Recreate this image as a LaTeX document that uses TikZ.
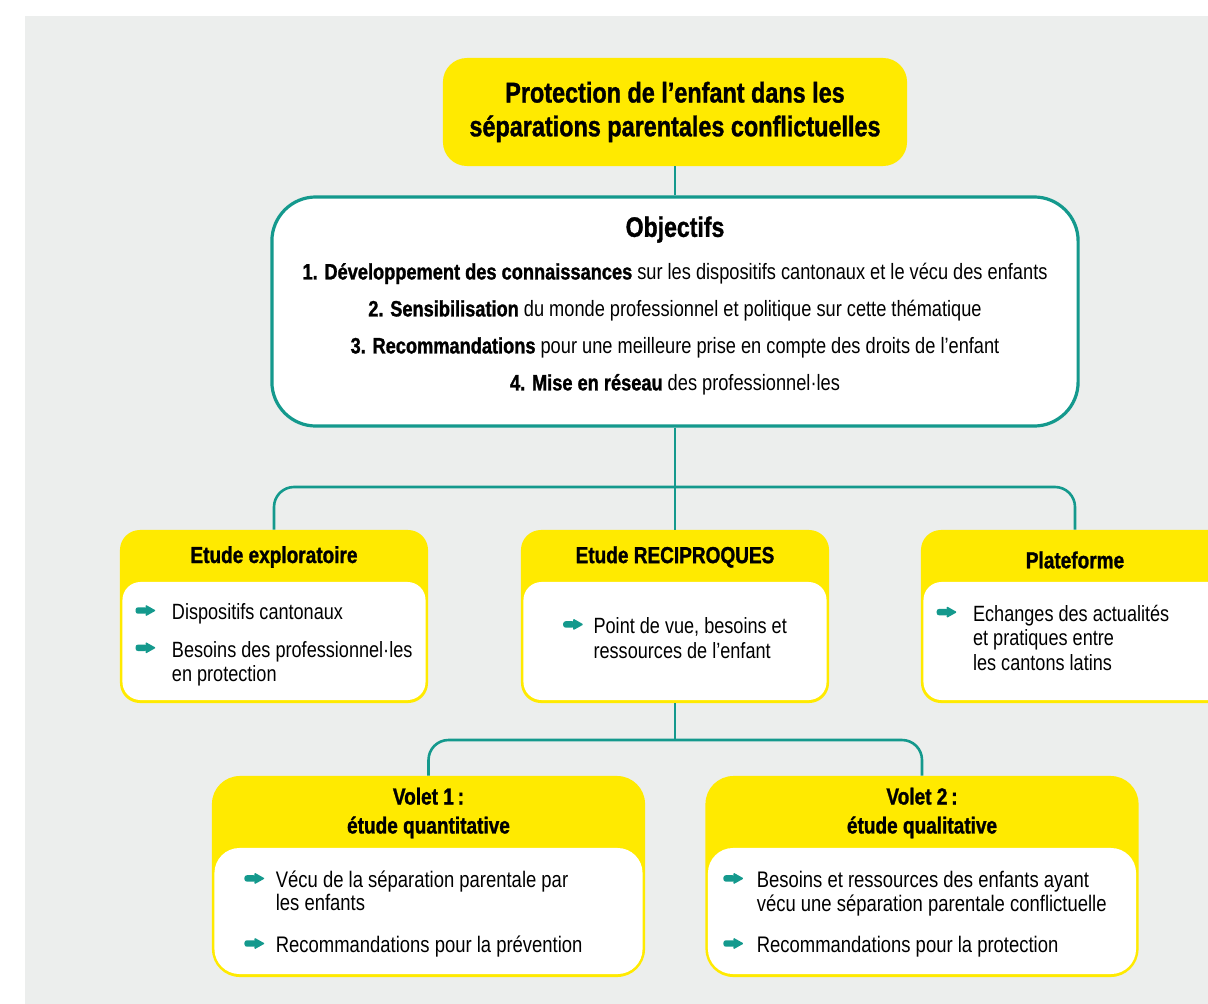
\documentclass[tikz,border=0pt]{standalone}
\usepackage{fontspec}
\setmainfont{Liberation Sans}[FakeStretch=0.82, BoldFeatures={FakeBold=1.2}]
\usepackage{tikz}
\usetikzlibrary{positioning}
\definecolor{jaune}{HTML}{FFEA00}
\definecolor{sarcelle}{HTML}{14998D}
\definecolor{fond}{HTML}{ECEEED}
\newcommand{\puce}{\tikz[x=1mm, y=1mm, baseline=-2.3mm]{%
    \fill[sarcelle, rounded corners=0.6mm] (0,-0.8) -- (2.9,-0.8) -- (2.9,0.8) -- (0,0.8) -- cycle;
    \fill[sarcelle, rounded corners=0.25mm] (2.5,-1.45) -- (5.1,0) -- (2.5,1.45) -- cycle;}}
\tikzset{haut/.style={fill=jaune, rounded corners=6mm, minimum width=116mm,
                      minimum height=27mm, align=center,
                      font=\fontsize{20.3}{24}\selectfont\bfseries},
         objbox/.style={fill=white, draw=sarcelle, line width=0.8mm,
                        rounded corners=11mm, minimum width=201.5mm,
                        minimum height=57.25mm, align=center, text depth=11.5pt,
                        font=\fontsize{15.8}{26.3}\selectfont},
         carte/.style={fill=jaune, rounded corners=5mm, minimum width=77mm,
                       minimum height=43.25mm},
         grande/.style={carte, rounded corners=7mm, minimum width=108.25mm,
                        minimum height=50.25mm},
         corps/.style={fill=white, rounded corners=4.5mm, inner sep=0pt,
                       minimum width=75.75mm, minimum height=29.5mm,
                       font=\fontsize{15.7}{17.5}\selectfont},
         corpsg/.style={corps, rounded corners=6.25mm, minimum width=107mm,
                        minimum height=31.5mm, font=\fontsize{16}{16.5}\selectfont},
         entete/.style={align=center, font=\fontsize{16.5}{20.6}\selectfont\bfseries},
         lien/.style={draw=sarcelle, line width=0.65mm, rounded corners=5mm},
         }

\begin{document}
\begin{tikzpicture}[x=0.025cm, y=-0.025cm]
    \useasboundingbox (0,0) rectangle (1208,1004);
    \clip (0,0) rectangle (1208,1004);
    \fill[fond] (25,16) rectangle (1208,1004);

    \node[haut] (proj) at (675,112) {Protection de l’enfant dans les\\séparations parentales conflictuelles};
    \node[objbox] (obj) at (675,311.5) {{\fontsize{20}{26}\selectfont\bfseries Objectifs}\\[4pt]
        \textbf{1. Développement des connaissances} sur les dispositifs cantonaux et le vécu des enfants\\
        \textbf{2. Sensibilisation} du monde professionnel et politique sur cette thématique\\
        \textbf{3. Recommandations} pour une meilleure prise en compte des droits de l’enfant\\
        \textbf{4. Mise en réseau} des professionnel·les};

    % les trois volets du projet
    \node[carte] (explo) at (274,616.5) {};
    \node[carte] (recip) at (675,616.5) {};
    \node[carte] (plat) at (1075,616.5) {};
    \node[entete] (explo-t) at (274,557) {Etude exploratoire};
    \node[entete] (recip-t) at (675,557) {Etude RECIPROQUES};
    \node[entete] (plat-t) at (1075,560) {Plateforme};
    \node[corps] (explo-c) at (274,641) {\begin{tabular}{@{}l@{\hspace{4mm}}l@{}}
        \puce & \rule{0pt}{19pt}Dispositifs cantonaux\\[9pt]
        \puce & Besoins des professionnel·les\\
              & en protection
        \end{tabular}};
    \node[corps] (recip-c) at (675,641) {\begin{tabular}{@{}l@{\hspace{2.5mm}}l@{}}
        \puce & Point de vue, besoins et\\
              & ressources de l’enfant
        \end{tabular}};
    \node[corps] (plat-c) at (1075,641) {\begin{tabular}{@{}l@{\hspace{4mm}}l@{}}
        \puce & Echanges des actualités\\
              & et pratiques entre\\
              & les cantons latins
        \end{tabular}\rule{11mm}{0pt}};

    % les deux volets de RECIPROQUES
    \node[grande] (vol1) at (428.5,876.5) {};
    \node[grande] (vol2) at (922,876.5) {};
    \node[entete] (vol1-t) at (428.5,813) {Volet 1\,:\\étude quantitative};
    \node[entete] (vol2-t) at (922,813) {Volet 2\,:\\étude qualitative};
    \node[corpsg] (vol1-c) at (428.5,911) {\begin{tabular}{@{}l@{\hspace{2.75mm}}l@{}}
        \puce & \rule{0pt}{18pt}Vécu de la séparation parentale par\\
              & les enfants\\[13pt]
        \puce & Recommandations pour la prévention
        \end{tabular}\rule{7.5mm}{0pt}};
    \node[corpsg] (vol2-c) at (922,911) {\begin{tabular}{@{}l@{\hspace{3.25mm}}l@{}}
        \puce & \rule{0pt}{18pt}Besoins et ressources des enfants ayant\\
              & vécu une séparation parentale conflictuelle\\[13pt]
        \puce & Recommandations pour la protection
        \end{tabular}\rule{3.5mm}{0pt}};

    \coordinate (b1) at (675,487);
    \coordinate (b2) at (675,740);
    \draw[lien] (proj.south) -- (obj.north);
    \draw[lien] (obj.south) -- (recip.north);
    \draw[lien] (explo.north) |- (b1) -| (plat.north);
    \draw[lien] (recip.south) -- (b2);
    \draw[lien] (vol1.north) |- (b2) -| (vol2.north);
\end{tikzpicture}
\end{document}
